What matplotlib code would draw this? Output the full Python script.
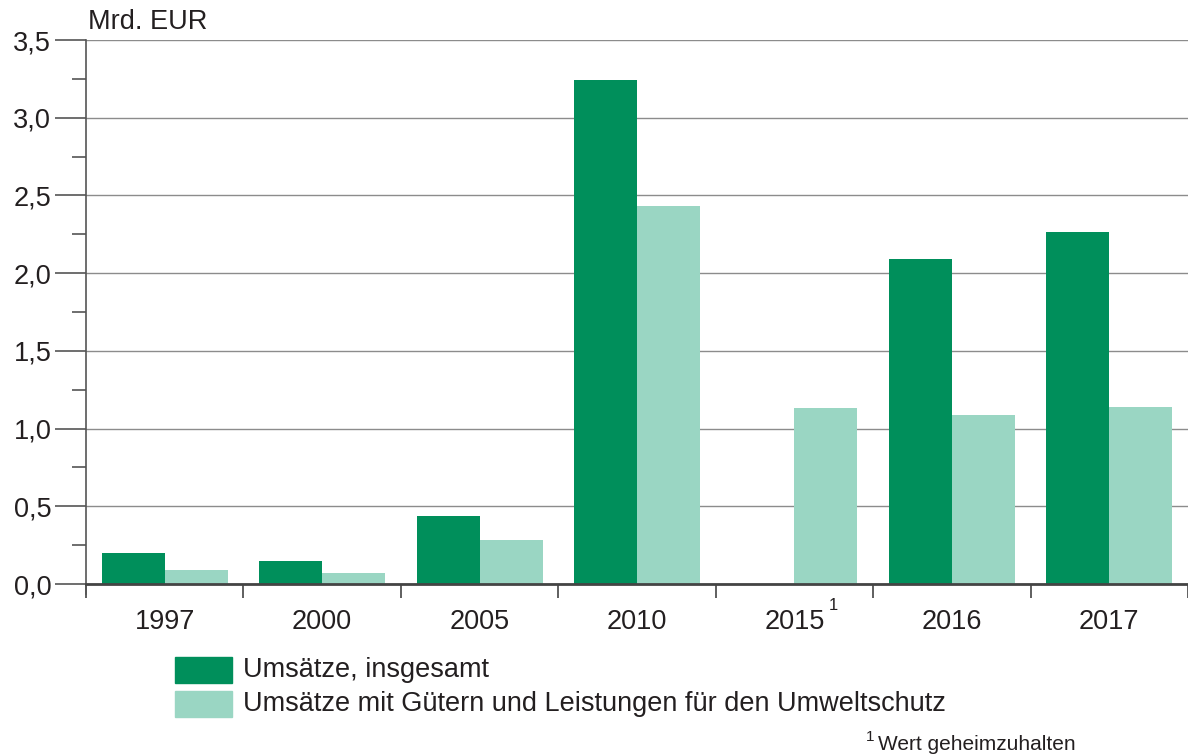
import matplotlib
matplotlib.use("Agg")
import matplotlib.pyplot as plt
from matplotlib.ticker import MultipleLocator
from matplotlib.patches import Rectangle
import numpy as np

years = ["1997", "2000", "2005", "2010", "2015", "2016", "2017"]
total = [0.20, 0.15, 0.44, 3.24, np.nan, 2.09, 2.265]
env = [0.09, 0.07, 0.28, 2.43, 1.13, 1.09, 1.14]
series_labels = ["Umsätze, insgesamt",
                 "Umsätze mit Gütern und Leistungen für den Umweltschutz"]
yticks = [0.0, 0.5, 1.0, 1.5, 2.0, 2.5, 3.0, 3.5]
ytick_labels = ["0,0", "0,5", "1,0", "1,5", "2,0", "2,5", "3,0", "3,5"]

dark = "#008F5B"
light = "#9AD6C3"
txt = "#231F20"
fs = 19.5

plt.rcParams['font.family'] = ['Liberation Sans', 'DejaVu Sans']

fig = plt.figure(figsize=(11.88, 7.56), dpi=100)
ax = fig.add_axes([86/1188, 1-584/756, 1-86/1188, (584-40)/756])

x = np.arange(len(years))
w = 0.4
ax.bar(x - w/2, total, width=w, color=dark, align='center', zorder=3, linewidth=0)
ax.bar(x + w/2, env, width=w, color=light, align='center', zorder=3, linewidth=0)

ax.set_xlim(-0.5, len(years) - 0.5)
ax.set_ylim(0, 3.5)
ax.set_yticks(yticks)
ax.set_yticklabels(ytick_labels, fontsize=fs, color=txt)
ax.yaxis.set_minor_locator(MultipleLocator(0.25))
ax.tick_params(axis='y', which='major', length=22, width=1.2, color="#555555", pad=3)
ax.tick_params(axis='y', which='minor', length=10, width=1.2, color="#555555")
ax.grid(axis='y', which='major', color="#8C8C8C", linewidth=1.0, zorder=0)

# x: separators as ticks at boundaries, labels at centers
ax.set_xticks(np.arange(len(years) + 1) - 0.5)
ax.set_xticklabels([])
ax.set_xticks(x, minor=True)
ax.set_xticklabels(years, minor=True, fontsize=fs, color=txt)
ax.tick_params(axis='x', which='major', length=10, width=1.2, color="#444444")
ax.tick_params(axis='x', which='minor', length=0, pad=18)

# footnote marker on 2015
i15 = years.index("2015")
ax.annotate("1", xy=(x[i15], 0), xycoords=('data', 'axes fraction'),
            xytext=(25, -21), textcoords='offset points', fontsize=12,
            color=txt, ha='left', va='bottom', annotation_clip=False)

for s in ['top', 'right']:
    ax.spines[s].set_visible(False)
ax.spines['left'].set_color("#555555")
ax.spines['left'].set_linewidth(1.2)
ax.spines['left'].set_bounds(-0.065, 3.5)
ax.spines['bottom'].set_color("#444444")
ax.spines['bottom'].set_linewidth(2.0)
ax.spines['bottom'].set_zorder(4)

fig.text(88/1188, 1-22/756, "Mrd. EUR", fontsize=fs, color=txt, va='center', ha='left')

# legend
for i, (lab, col) in enumerate(zip(series_labels, [dark, light])):
    y0 = 657 + i * 34
    fig.patches.append(Rectangle((175/1188, 1-(y0+26)/756), 57/1188, 26/756,
                                 transform=fig.transFigure, color=col, figure=fig))
    fig.text(243/1188, 1-(y0+13)/756, lab, fontsize=fs, color=txt, va='center', ha='left')

fig.text(866/1188, 1-737/756, "1", fontsize=11, color=txt, va='center', ha='left')
fig.text(878/1188, 1-744/756, "Wert geheimzuhalten", fontsize=15, color=txt,
         va='center', ha='left')

fig.savefig("out.png", dpi=100)
